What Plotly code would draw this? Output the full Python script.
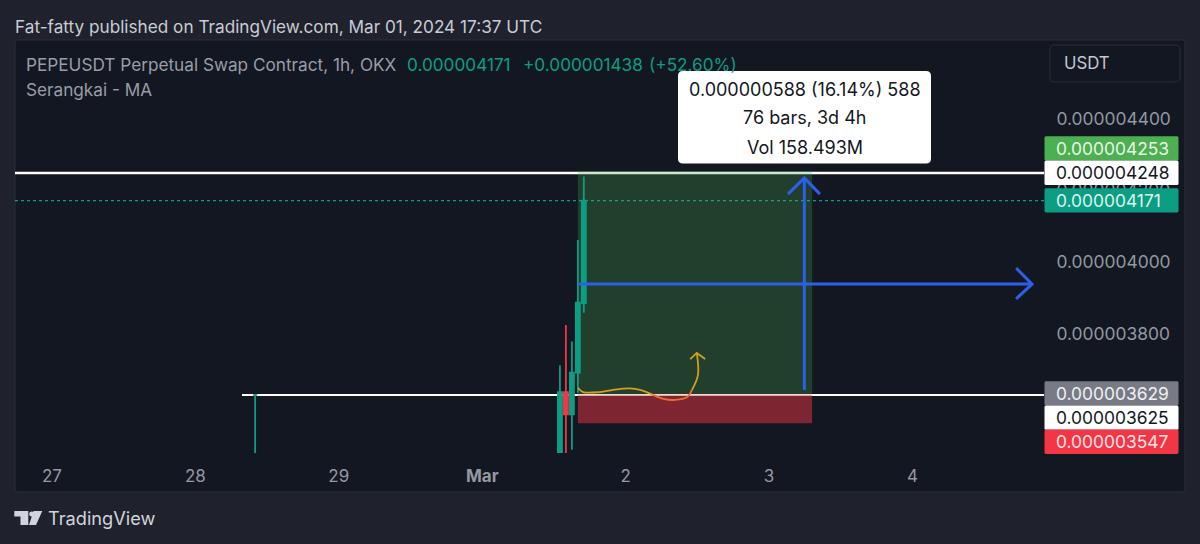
import plotly.graph_objects as go

W, H = 1200, 544
L, R, T, B = 15, 1044, 40, 453
FONT = "Inter, 'Noto Sans', sans-serif"

# ---- data (prices in units of 1e-9 USDT) ----
candle_time = ["2024-02-28 10:00", "2024-03-01 13:00", "2024-03-01 14:00", "2024-03-01 15:00", "2024-03-01 16:00", "2024-03-01 17:00"]
candle_open = [3629, 3467, 3637, 3575, 3691, 3885]
candle_high = [3629, 3711, 3824, 3778, 4061, 4238]
candle_low = [3467, 3467, 3467, 3476, 3635, 3858]
candle_close = [3629, 3637, 3575, 3691, 3886, 4171]

last_price = 4171
upper_level = 4248
lower_level = 3629
target_price = 4253
mid_price = 3625
stop_price = 3550
x_first = "2024-02-26 17:49"
x_last = "2024-03-04 22:00"
lower_start = "2024-02-28 07:48"
box_start = "2024-03-01 16:00"
box_end = "2024-03-03 07:12"

h_arrow_x = ["2024-03-01 16:00", "2024-03-04 20:00"]
h_arrow_y = [3938, 3938]
h_head_x = ["2024-03-04 17:20", "2024-03-04 20:00", "2024-03-04 17:20"]
h_head_y = [3983, 3938, 3897]
v_arrow_x = ["2024-03-03 05:54", "2024-03-03 05:54"]
v_arrow_y = [3643, 4234]
v_head_x = ["2024-03-03 03:10", "2024-03-03 05:54", "2024-03-03 08:30"]
v_head_y = [4189, 4234, 4189]

sketch1_x = ["2024-03-01 16:00", "2024-03-01 16:52", "2024-03-01 19:42", "2024-03-01 21:54", "2024-03-02 00:42", "2024-03-02 02:24", "2024-03-02 04:36"]
sketch1_y = [3649, 3637, 3637, 3643, 3647, 3643, 3629]
sketch2_x = ["2024-03-02 04:36", "2024-03-02 06:18", "2024-03-02 08:18", "2024-03-02 10:18", "2024-03-02 11:06"]
sketch2_y = [3629, 3618, 3615, 3623, 3643]
sketch3_x = ["2024-03-02 11:06", "2024-03-02 12:06", "2024-03-02 11:54"]
sketch3_y = [3643, 3685, 3746]
sketch_head_x = ["2024-03-02 10:48", "2024-03-02 11:54", "2024-03-02 13:18"]
sketch_head_y = [3729, 3746, 3729]

x_tick_vals = ["2024-02-27", "2024-02-28", "2024-02-29", "2024-03-01", "2024-03-02", "2024-03-03", "2024-03-04"]
x_tick_text = ["27", "28", "29", "<b>Mar</b>", "2", "3", "4"]
y_tick_vals = [3800, 4000, 4200, 4400]
y_tick_text = ["0.000003800", "0.000004000", "0.000004200", "0.000004400"]
y_range = [3467, 4618.7]

price_labels = [
    ("0.000004253", 148.4, "#4caf50", "#e8f5e9"),
    ("0.000004248", 172.8, "#ffffff", "#131722"),
    ("0.000004171", 200.4, "#0d9d83", "#d9f5ef"),
    ("0.000003629", 393.4, "#787b86", "#f0f1f3"),
    ("0.000003625", 417.6, "#ffffff", "#131722"),
    ("0.000003547", 441.8, "#f23645", "#fde3e5"),
]
tooltip_lines = ["0.000000588 (16.14%) 588", "76 bars, 3d 4h", "Vol 158.493M"]
BLUE = "#2c60ea"
TEAL = "#0d9d83"


def px(x):
    return (x - L) / (R - L)


def py(y):
    return (B - y) / (B - T)


def rrect(x0, y0, x1, y1, r):
    pts = [
        ("M", x0 + r, y0), ("L", x1 - r, y0), ("Q", x1, y0, x1, y0 + r), ("L", x1, y1 - r),
        ("Q", x1, y1, x1 - r, y1), ("L", x0 + r, y1), ("Q", x0, y1, x0, y1 - r), ("L", x0, y0 + r),
        ("Q", x0, y0, x0 + r, y0),
    ]
    out = []
    for p in pts:
        coords = p[1:]
        s = " ".join(f"{px(coords[i]):.5f},{py(coords[i + 1]):.5f}" for i in range(0, len(coords), 2))
        out.append(f"{p[0]} {s}")
    return " ".join(out) + " Z"


def poly(points):
    return "M " + " L ".join(f"{px(a):.5f},{py(b):.5f}" for a, b in points) + " Z"


def line(xs, ys, color, width, shape="linear"):
    return go.Scatter(x=xs, y=ys, mode="lines", hoverinfo="skip", showlegend=False,
                      line=dict(color=color, width=width, shape=shape))


fig = go.Figure()
fig.add_trace(go.Candlestick(
    x=candle_time, open=candle_open, high=candle_high, low=candle_low, close=candle_close,
    increasing=dict(line=dict(color=TEAL, width=1.8), fillcolor=TEAL),
    decreasing=dict(line=dict(color="#f23645", width=1.8), fillcolor="#f23645"),
    whiskerwidth=0, showlegend=False, hoverinfo="skip",
))
fig.add_trace(line(sketch1_x, sketch1_y, "#d2a01e", 1.8, "spline"))
fig.add_trace(line(sketch2_x, sketch2_y, "#ee6c33", 1.8, "spline"))
fig.add_trace(line(sketch3_x, sketch3_y, "#d2a01e", 1.8, "spline"))
fig.add_trace(line(sketch_head_x, sketch_head_y, "#d2a01e", 1.8))
fig.add_trace(line(h_arrow_x, h_arrow_y, BLUE, 3))
fig.add_trace(line(h_head_x, h_head_y, BLUE, 3))
fig.add_trace(line(v_arrow_x, v_arrow_y, BLUE, 3))
fig.add_trace(line(v_head_x, v_head_y, BLUE, 3))

shapes = [
    dict(type="path", xref="paper", yref="paper", layer="below", path=rrect(15, 40, 1185, 492, 2),
         fillcolor="#131722", line=dict(width=1, color="#2a2e39")),
    dict(type="line", xref="x", yref="y", layer="below", x0=x_first, x1=x_last, y0=upper_level, y1=upper_level,
         line=dict(color="#ffffff", width=2.5)),
    dict(type="line", xref="x", yref="y", layer="below", x0=lower_start, x1=x_last, y0=lower_level, y1=lower_level,
         line=dict(color="#ffffff", width=2)),
    dict(type="line", xref="x", yref="y", layer="below", x0=x_first, x1=x_last, y0=last_price, y1=last_price,
         line=dict(color=TEAL, width=1.2, dash="dot")),
    dict(type="rect", xref="x", yref="y", layer="below", x0=box_start, x1=box_end, y0=lower_level, y1=target_price,
         fillcolor="rgba(76,175,80,0.27)", line=dict(width=0)),
    dict(type="rect", xref="x", yref="y", layer="below", x0=box_start, x1=box_end, y0=stop_price, y1=lower_level,
         fillcolor="rgba(242,54,69,0.48)", line=dict(width=0)),
    dict(type="path", xref="paper", yref="paper", path=rrect(678, 71, 931, 163.5, 5), fillcolor="#ffffff", line=dict(width=0)),
    dict(type="path", xref="paper", yref="paper", path=rrect(1050, 45, 1180, 82, 5), fillcolor="rgba(0,0,0,0)",
         line=dict(width=1, color="#2a2e39")),
    # TradingView logo
    dict(type="path", xref="paper", yref="paper", path=poly([(14.3, 511), (28.3, 511), (28.3, 525), (20.5, 525), (20.5, 516.5), (14.3, 516.5)]),
         fillcolor="#d1d4dc", line=dict(width=0)),
    dict(type="path", xref="paper", yref="paper", path=poly([(33.5, 511), (42.3, 511), (36, 525), (29, 525)]),
         fillcolor="#d1d4dc", line=dict(width=0)),
    dict(type="circle", xref="paper", yref="paper", x0=px(29.2), x1=px(34.2), y0=py(516.5), y1=py(511.5),
         fillcolor="#d1d4dc", line=dict(width=0)),
]

for text, yc, bg, fg in price_labels:
    shapes.append(dict(type="path", xref="paper", yref="paper", path=rrect(1044.5, yc - 12.2, 1178.5, yc + 12.2, 1.5),
                       fillcolor=bg, line=dict(width=0)))

annotations = []


def label(x, y, text, color, size=17.2, anchor="left"):
    offs = -2 if anchor == "left" else 0
    annotations.append(dict(xref="paper", yref="paper", x=px(x + offs), y=py(y), text=text, showarrow=False,
                            xanchor=anchor, yanchor="middle", align=anchor,
                            font=dict(family=FONT, size=size, color=color)))


label(15, 26, "Fat-fatty published on TradingView.com, Mar 01, 2024 17:37 UTC", "#c9ccd4")
label(26, 64, "PEPEUSDT Perpetual Swap Contract, 1h, OKX", "#9a9da6")
label(407, 64, "0.000004171", TEAL)
label(523, 64, "+0.000001438", TEAL)
label(649, 64, "(+52.60%)", TEAL)
label(26, 89, "Serangkai - MA", "#9a9da6")
label(1064, 63, "USDT", "#c5c8d0", 16.8)
label(48, 518, "TradingView", "#d1d4dc", 18.2)
for t, yy in zip(tooltip_lines, [89, 118, 147]):
    label(804.5, yy, t, "#131722", 18, "center")
for text, yc, bg, fg in price_labels:
    label(1056, yc, text, fg, 17.4)

fig.update_layout(
    width=W, height=H, autosize=False,
    margin=dict(l=L, r=W - R, t=T, b=H - B, pad=0),
    paper_bgcolor="#1f222d", plot_bgcolor="rgba(0,0,0,0)",
    showlegend=False, boxgap=0.03, shapes=shapes, annotations=annotations,
    font=dict(family=FONT, size=16, color="#9598a1"),
    xaxis=dict(type="date", range=[x_first, x_last], rangeslider=dict(visible=False), showgrid=False, zeroline=False,
               showline=False, tickmode="array", tickvals=x_tick_vals, ticktext=x_tick_text,
               ticks="outside", ticklen=8, tickcolor="rgba(0,0,0,0)", tickfont=dict(family=FONT, size=17, color="#9598a1")),
    yaxis=dict(side="right", range=y_range, showgrid=False, zeroline=False, showline=False,
               tickmode="array", tickvals=y_tick_vals, ticktext=y_tick_text,
               ticks="outside", ticklen=8, tickcolor="rgba(0,0,0,0)", tickfont=dict(family=FONT, size=17.4, color="#9598a1")),
)

fig.write_html("out.html", post_script="document.body.style.margin='0';", config=dict(displayModeBar=False))
